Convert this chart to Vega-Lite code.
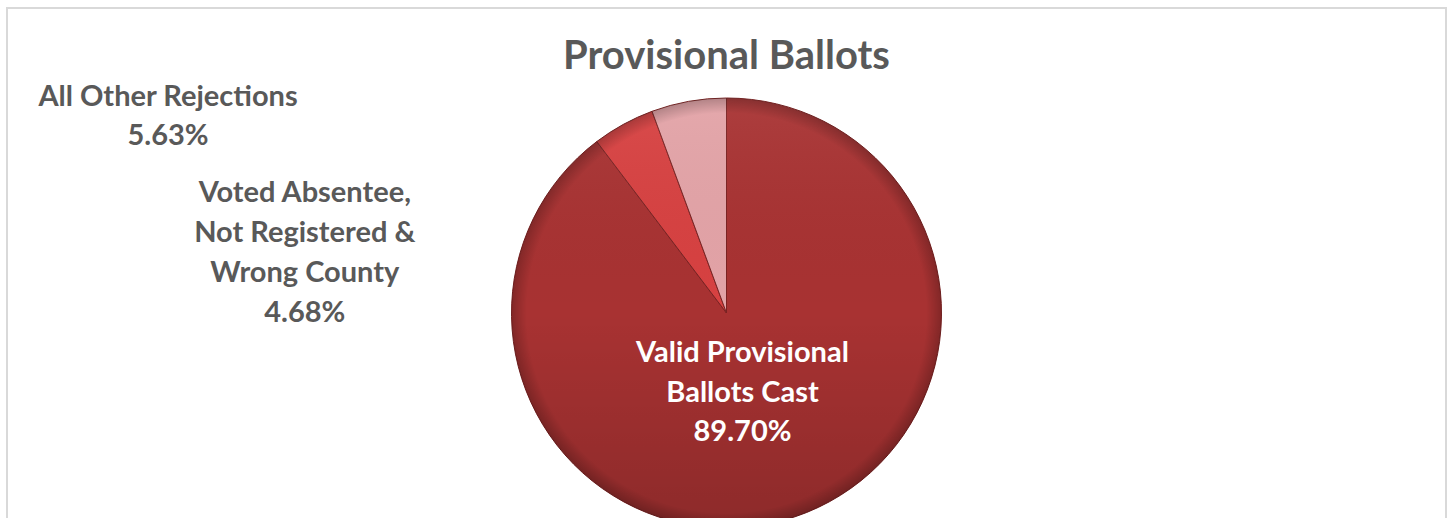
{
  "$schema": "https://vega.github.io/schema/vega-lite/v6.json",
  "width": 1448,
  "height": 518,
  "autosize": {"type": "fit", "contains": "padding"},
  "padding": {"left": 7, "top": 8, "right": 2, "bottom": -4},
  "background": "white",
  "view": {"stroke": "#d9d9d9", "strokeWidth": 2},
  "title": {
    "text": "Provisional Ballots",
    "font": "Lato",
    "fontSize": 40,
    "fontWeight": "bold",
    "color": "#595959",
    "anchor": "middle",
    "baseline": "alphabetic",
    "offset": -101
  },
  "data": {
    "values": [
      {"i": 1, "name": "Valid Provisional\nBallots Cast", "value": 89.70},
      {"i": 2, "name": "Voted Absentee,\nNot Registered &\nWrong County", "value": 4.68},
      {"i": 3, "name": "All Other Rejections", "value": 5.63}
    ]
  },
  "transform": [
    {"stack": "value", "groupby": [], "sort": [{"field": "i", "order": "ascending"}], "as": ["s", "e"]},
    {"calculate": "datum.name + '\\n' + format(datum.value, '.2f') + '%'", "as": "label"}
  ],
  "layer": [
    {
      "mark": {"type": "arc", "clip": true, "radius": 215, "y": {"expr": "height/2 + 48"}, "stroke": "#7a2222", "strokeWidth": 1},
      "encoding": {
        "theta": {"field": "s", "type": "quantitative", "stack": null, "scale": {"domain": [0, 100.01]}},
        "theta2": {"field": "e"},
        "color": {
          "field": "name",
          "type": "nominal",
          "legend": null,
          "scale": {
            "domain": ["Valid Provisional\nBallots Cast", "Voted Absentee,\nNot Registered &\nWrong County", "All Other Rejections"],
            "range": ["#a83232", "#d74141", "#e3a3a7"]
          }
        }
      }
    },
    {
      "transform": [{"filter": "datum.i == 1"}],
      "mark": {
        "type": "arc", "clip": true, "radius": 215, "theta": 0, "theta2": 6.2832,
        "y": {"expr": "height/2 + 48"},
        "fill": {
          "gradient": "linear", "x1": 0, "y1": 0, "x2": 0, "y2": 1,
          "stops": [
            {"offset": 0, "color": "rgba(255,255,255,0.06)"},
            {"offset": 0.5, "color": "rgba(0,0,0,0)"},
            {"offset": 1, "color": "rgba(0,0,0,0.16)"}
          ]
        }
      },
      "encoding": {}
    },
    {
      "transform": [{"filter": "datum.i == 1"}],
      "mark": {
        "type": "arc", "clip": true, "radius": 215, "theta": 0, "theta2": 6.2832,
        "y": {"expr": "height/2 + 48"},
        "fill": {
          "gradient": "radial", "x1": 0.5, "y1": 0.5, "r1": 0, "x2": 0.5, "y2": 0.5, "r2": 0.5,
          "stops": [
            {"offset": 0, "color": "rgba(0,0,0,0)"},
            {"offset": 0.93, "color": "rgba(0,0,0,0)"},
            {"offset": 1, "color": "rgba(0,0,0,0.22)"}
          ]
        }
      },
      "encoding": {}
    },
    {
      "transform": [{"filter": "datum.i == 1"}],
      "mark": {
        "type": "text", "radius": 0, "y": {"expr": "height/2 + 48"},
        "dx": 16, "dy": 49, "align": "center", "baseline": "alphabetic",
        "lineBreak": "\n", "lineHeight": 39.5,
        "font": "Lato", "fontSize": 29, "fontWeight": "bold", "color": "white"
      },
      "encoding": {
        "theta": {"field": "s", "type": "quantitative", "stack": null},
        "text": {"field": "label"}
      }
    },
    {
      "transform": [{"filter": "datum.i == 2"}],
      "mark": {
        "type": "text", "radius": 215, "y": {"expr": "height/2 + 48"},
        "dx": -292, "dy": 60, "align": "center", "baseline": "alphabetic",
        "lineBreak": "\n", "lineHeight": 40.3,
        "font": "Lato", "fontSize": 29, "fontWeight": "bold", "color": "#595959"
      },
      "encoding": {
        "theta": {"field": "s", "type": "quantitative", "stack": null},
        "text": {"field": "label"}
      }
    },
    {
      "transform": [{"filter": "datum.i == 3"}],
      "mark": {
        "type": "text", "radius": 215, "y": {"expr": "height/2 + 48"},
        "dx": -484, "dy": -5, "align": "center", "baseline": "alphabetic",
        "lineBreak": "\n", "lineHeight": 38.5,
        "font": "Lato", "fontSize": 29, "fontWeight": "bold", "color": "#595959"
      },
      "encoding": {
        "theta": {"field": "s", "type": "quantitative", "stack": null},
        "text": {"field": "label"}
      }
    }
  ]
}
